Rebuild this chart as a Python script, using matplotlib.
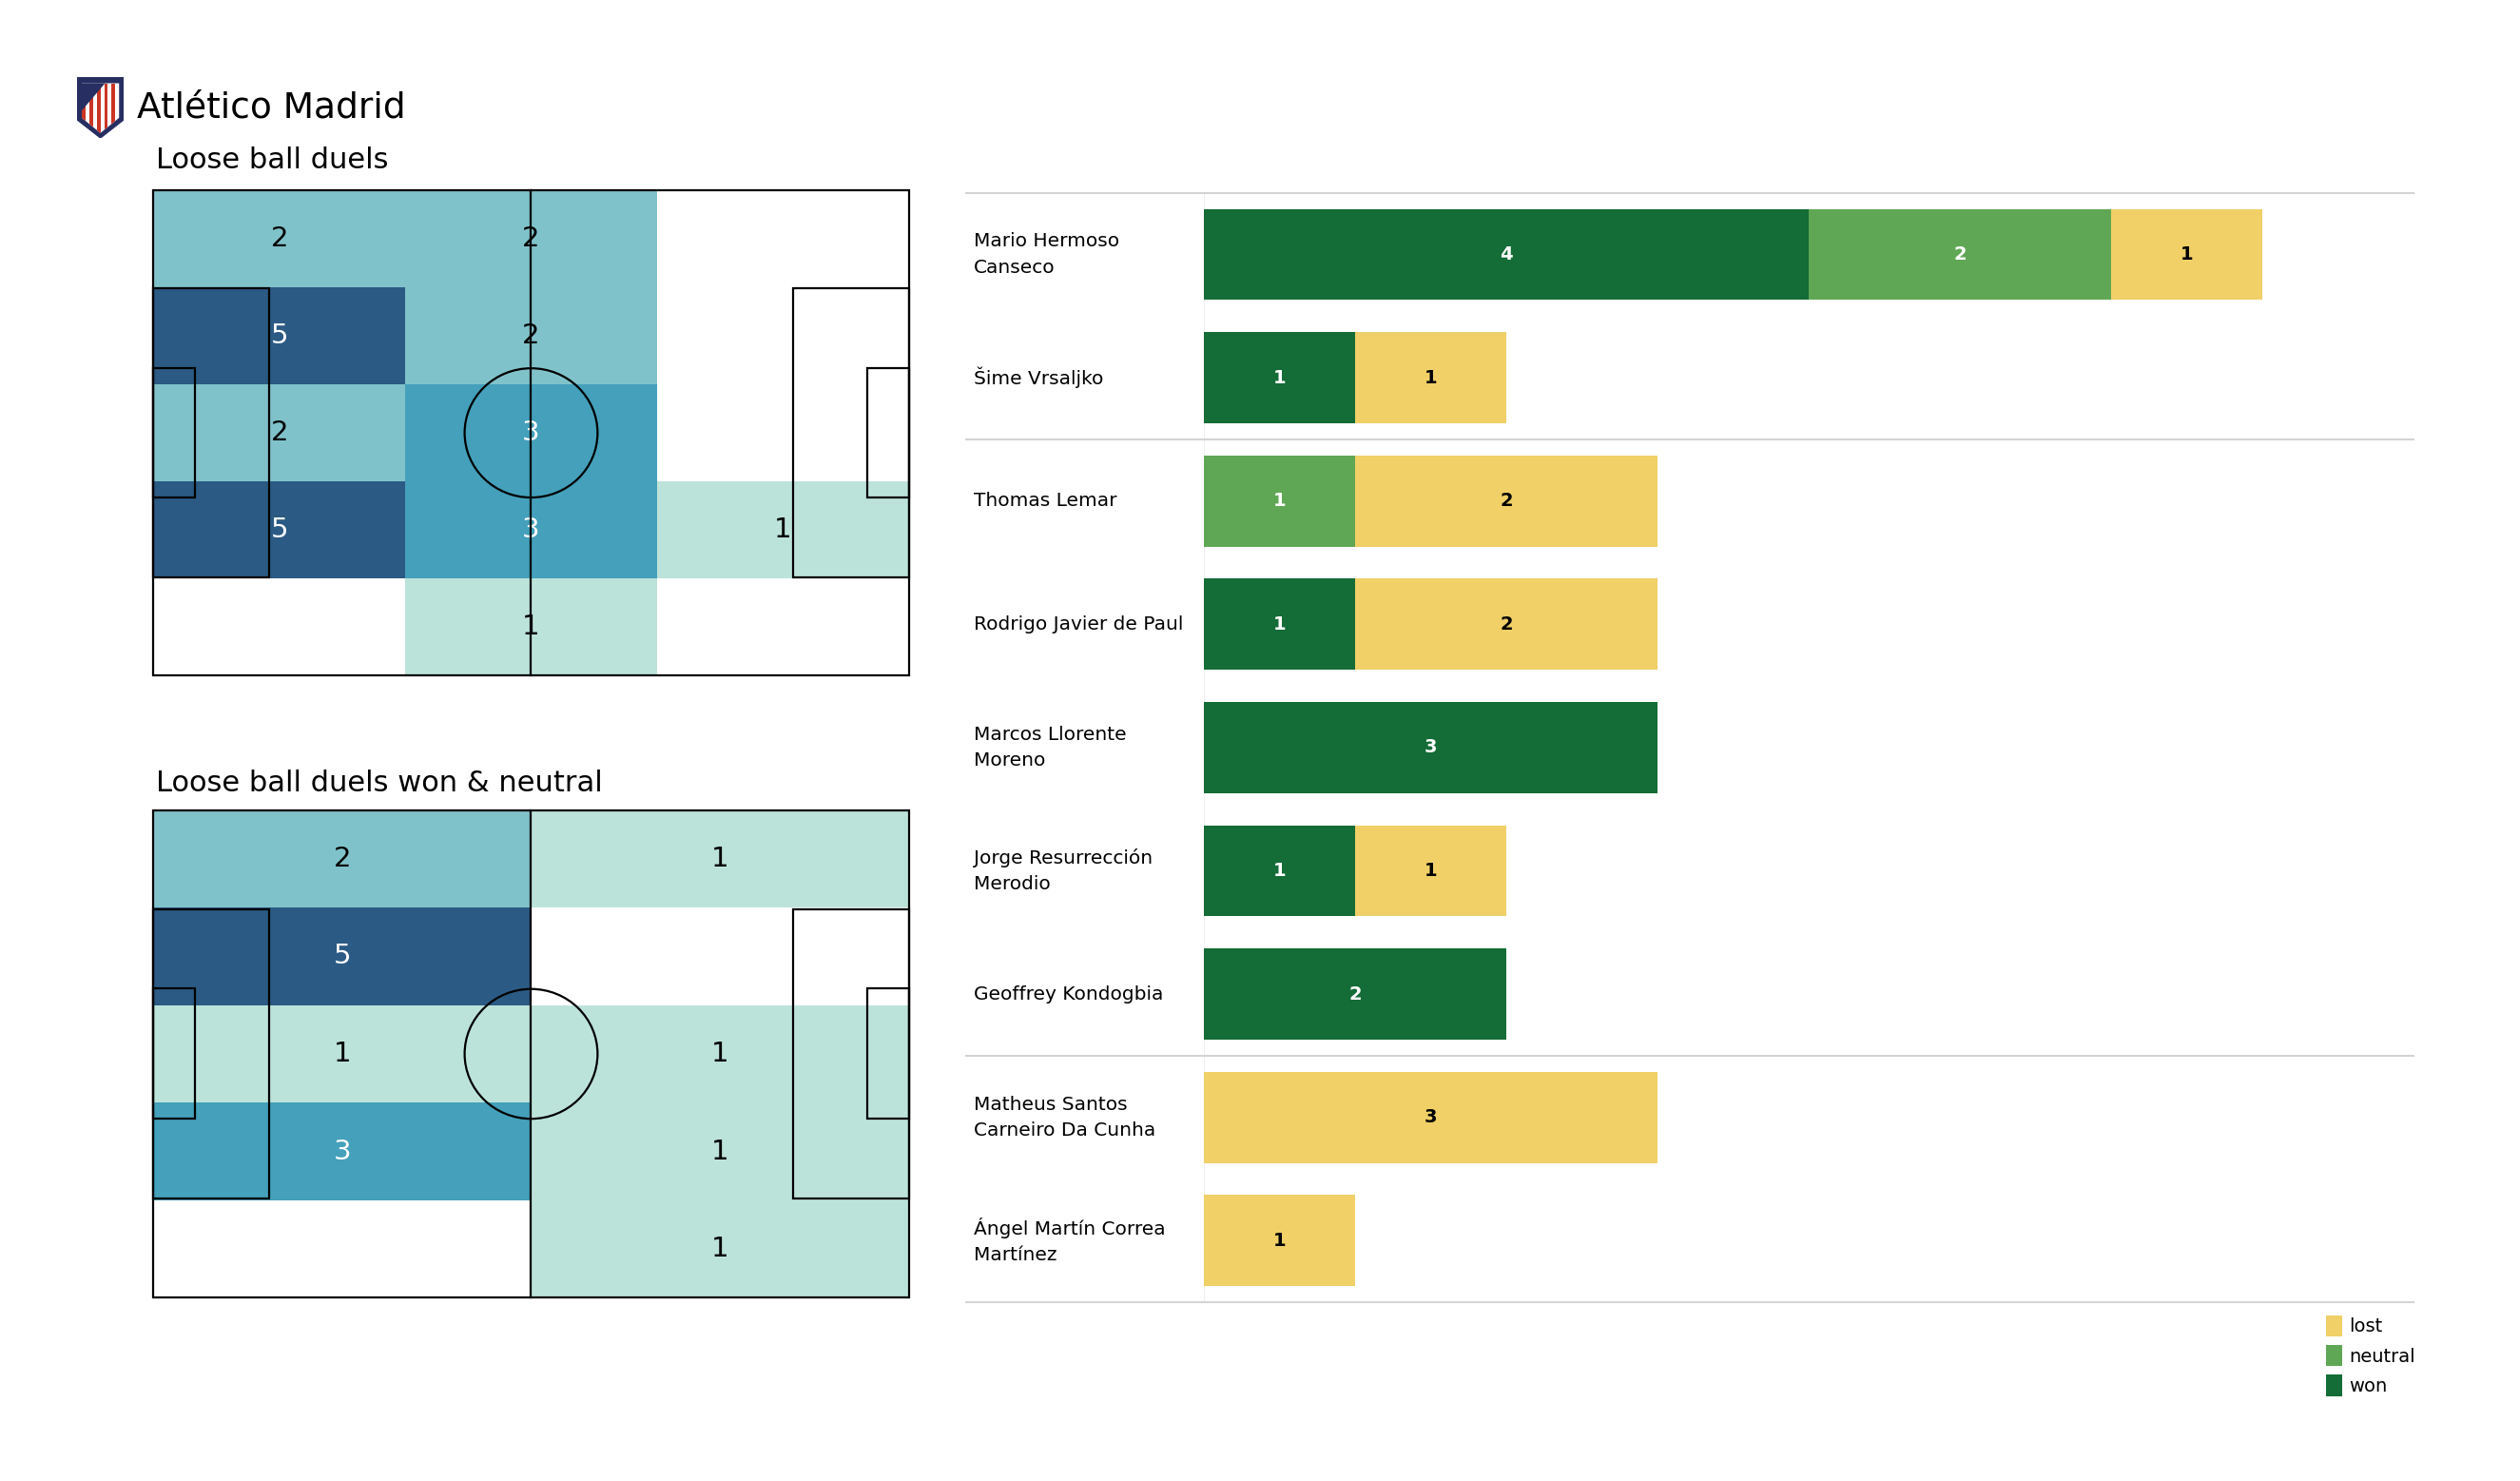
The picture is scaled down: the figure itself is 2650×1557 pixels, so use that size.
import numpy as np
import matplotlib
matplotlib.use('Agg')
import matplotlib.pyplot as plt
from matplotlib.colors import LinearSegmentedColormap
from matplotlib.patches import Rectangle, Ellipse, Polygon
import matplotlib.transforms as mtransforms

# heatmap counts, rows top -> bottom, cols left -> right
duels_all = [[2, 2, 0],
             [5, 2, 0],
             [2, 3, 0],
             [5, 3, 1],
             [0, 1, 0]]
duels_won_neutral = [[2, 1],
                     [5, 0],
                     [1, 1],
                     [3, 1],
                     [0, 1]]

players = ["Mario Hermoso\nCanseco", "Šime Vrsaljko", "Thomas Lemar",
           "Rodrigo Javier de Paul", "Marcos Llorente\nMoreno",
           "Jorge Resurrección\nMerodio", "Geoffrey Kondogbia",
           "Matheus Santos\nCarneiro Da Cunha", "Ángel Martín Correa\nMartínez"]
won = [4, 1, 0, 1, 3, 1, 2, 0, 0]
neutral = [2, 0, 1, 0, 0, 0, 0, 0, 0]
lost = [1, 1, 2, 2, 0, 1, 0, 3, 1]
group_breaks = [1.5, 6.5]

c_won = '#146c36'
c_neutral = '#60a755'
c_lost = '#f0d067'

heat_cmap = LinearSegmentedColormap.from_list(
    'heat', [(0.0, '#ffffff'), (0.2, '#bce3da'), (0.4, '#80c2ca'),
             (0.6, '#44a0bb'), (1.0, '#2b5a84')])

fig = plt.figure(figsize=(26.5, 15.57), dpi=100)


def draw_pitch(ax, counts):
    counts = np.array(counts)
    nrow, ncol = counts.shape
    xe = np.linspace(0, 100, ncol + 1)
    ye = np.linspace(0, 100, nrow + 1)
    ax.pcolormesh(xe, ye, counts, cmap=heat_cmap, vmin=0, vmax=5, zorder=1)
    for i in range(nrow):
        for j in range(ncol):
            v = counts[i, j]
            if v == 0:
                continue
            col = 'white' if v >= 3 else 'black'
            ax.text((xe[j] + xe[j + 1]) / 2, (ye[i] + ye[i + 1]) / 2, str(v),
                    ha='center', va='center', fontsize=21, color=col, zorder=2)
    lw = 1.6
    kw = dict(fill=False, ec='black', lw=lw, zorder=3)
    ax.add_patch(Rectangle((0, 0), 100, 100, **kw))
    ax.plot([50, 50], [0, 100], color='black', lw=lw, zorder=3)
    ax.add_patch(Ellipse((50, 50), 17.6, 26.6, **kw))
    ax.add_patch(Rectangle((0, 20.3), 15.3, 59.4, **kw))
    ax.add_patch(Rectangle((84.7, 20.3), 15.3, 59.4, **kw))
    ax.add_patch(Rectangle((0, 36.6), 5.5, 26.6, **kw))
    ax.add_patch(Rectangle((94.5, 36.6), 5.5, 26.6, **kw))
    ax.set_xlim(-0.3, 100.3)
    ax.set_ylim(100.3, -0.3)
    ax.axis('off')


ax1 = fig.add_axes([0.060, 0.5427, 0.3015, 0.330])
draw_pitch(ax1, duels_all)
ax2 = fig.add_axes([0.060, 0.1227, 0.3015, 0.3314])
draw_pitch(ax2, duels_won_neutral)

fig.text(0.0543, 0.927, "Atlético Madrid", fontsize=27, va='center', ha='left')
fig.text(0.0619, 0.8915, "Loose ball duels", fontsize=22, va='center', ha='left')
fig.text(0.0619, 0.4708, "Loose ball duels won & neutral", fontsize=22,
         va='center', ha='left')

# crest
axl = fig.add_axes([0.0306, 0.9069, 0.0185, 0.041])
axl.set_xlim(0, 1)
axl.set_ylim(0, 1)
axl.axis('off')
shield = Polygon([(0, 1), (1, 1), (1, 0.3), (0.5, 0), (0, 0.3)],
                 closed=True, fc='#272e61', ec='#272e61')
axl.add_patch(shield)
inner = Polygon([(0.1, 0.9), (0.9, 0.9), (0.9, 0.33), (0.5, 0.08), (0.1, 0.33)],
                closed=True, fc='white', ec='none')
axl.add_patch(inner)
for x0 in np.arange(0.1, 0.9, 0.16):
    r = Rectangle((x0, 0), 0.08, 0.9, fc='#cb3524', ec='none')
    axl.add_patch(r)
    r.set_clip_path(inner)
tri = Polygon([(0.1, 0.9), (0.6, 0.9), (0.1, 0.45)], closed=True,
              fc='#272e61', ec='none')
axl.add_patch(tri)

# stacked bars
ax = fig.add_axes([0.4777, 0.1207, 0.48, 0.7491])
y = np.arange(len(players))
h = 0.74
won_a = np.array(won)
neu_a = np.array(neutral)
lost_a = np.array(lost)
b_won = ax.barh(y, won_a, height=h, color=c_won, label='won')
b_neu = ax.barh(y, neu_a, left=won_a, height=h, color=c_neutral, label='neutral')
b_lost = ax.barh(y, lost_a, left=won_a + neu_a, height=h, color=c_lost, label='lost')

for vals, left, tc in [(won_a, 0 * won_a, 'white'), (neu_a, won_a, 'white'),
                       (lost_a, won_a + neu_a, 'black')]:
    for i, v in enumerate(vals):
        if v > 0:
            ax.text(left[i] + v / 2, i, str(v), ha='center', va='center',
                    fontsize=14, fontweight='bold', color=tc)

ax.set_xlim(0, 8)
ax.set_ylim(8.5, -0.5)
for s in ax.spines.values():
    s.set_visible(False)
ax.set_xticks([])
ax.set_yticks([])
ax.axvline(0, color='#ececec', lw=1.2, zorder=0)

trans = mtransforms.blended_transform_factory(ax.transAxes, ax.transData)
for yl in [-0.5] + group_breaks + [8.5]:
    ax.plot([-0.1965, 1.0], [yl, yl], transform=trans, color='#d4d4d4',
            lw=1.5, clip_on=False, zorder=0)

for i, name in enumerate(players):
    ax.text(-0.19, i, name, transform=trans, ha='left', va='center',
            fontsize=14.5, linespacing=1.55)

handles = [b_lost, b_neu, b_won]
ax.legend(handles, ['lost', 'neutral', 'won'], loc='upper right',
          bbox_to_anchor=(1.012, -0.0), frameon=False, fontsize=14,
          handlelength=0.9, handleheight=1.4, handletextpad=0.35,
          labelspacing=0.45, borderaxespad=0.3)

fig.savefig('out.png', dpi=100)
